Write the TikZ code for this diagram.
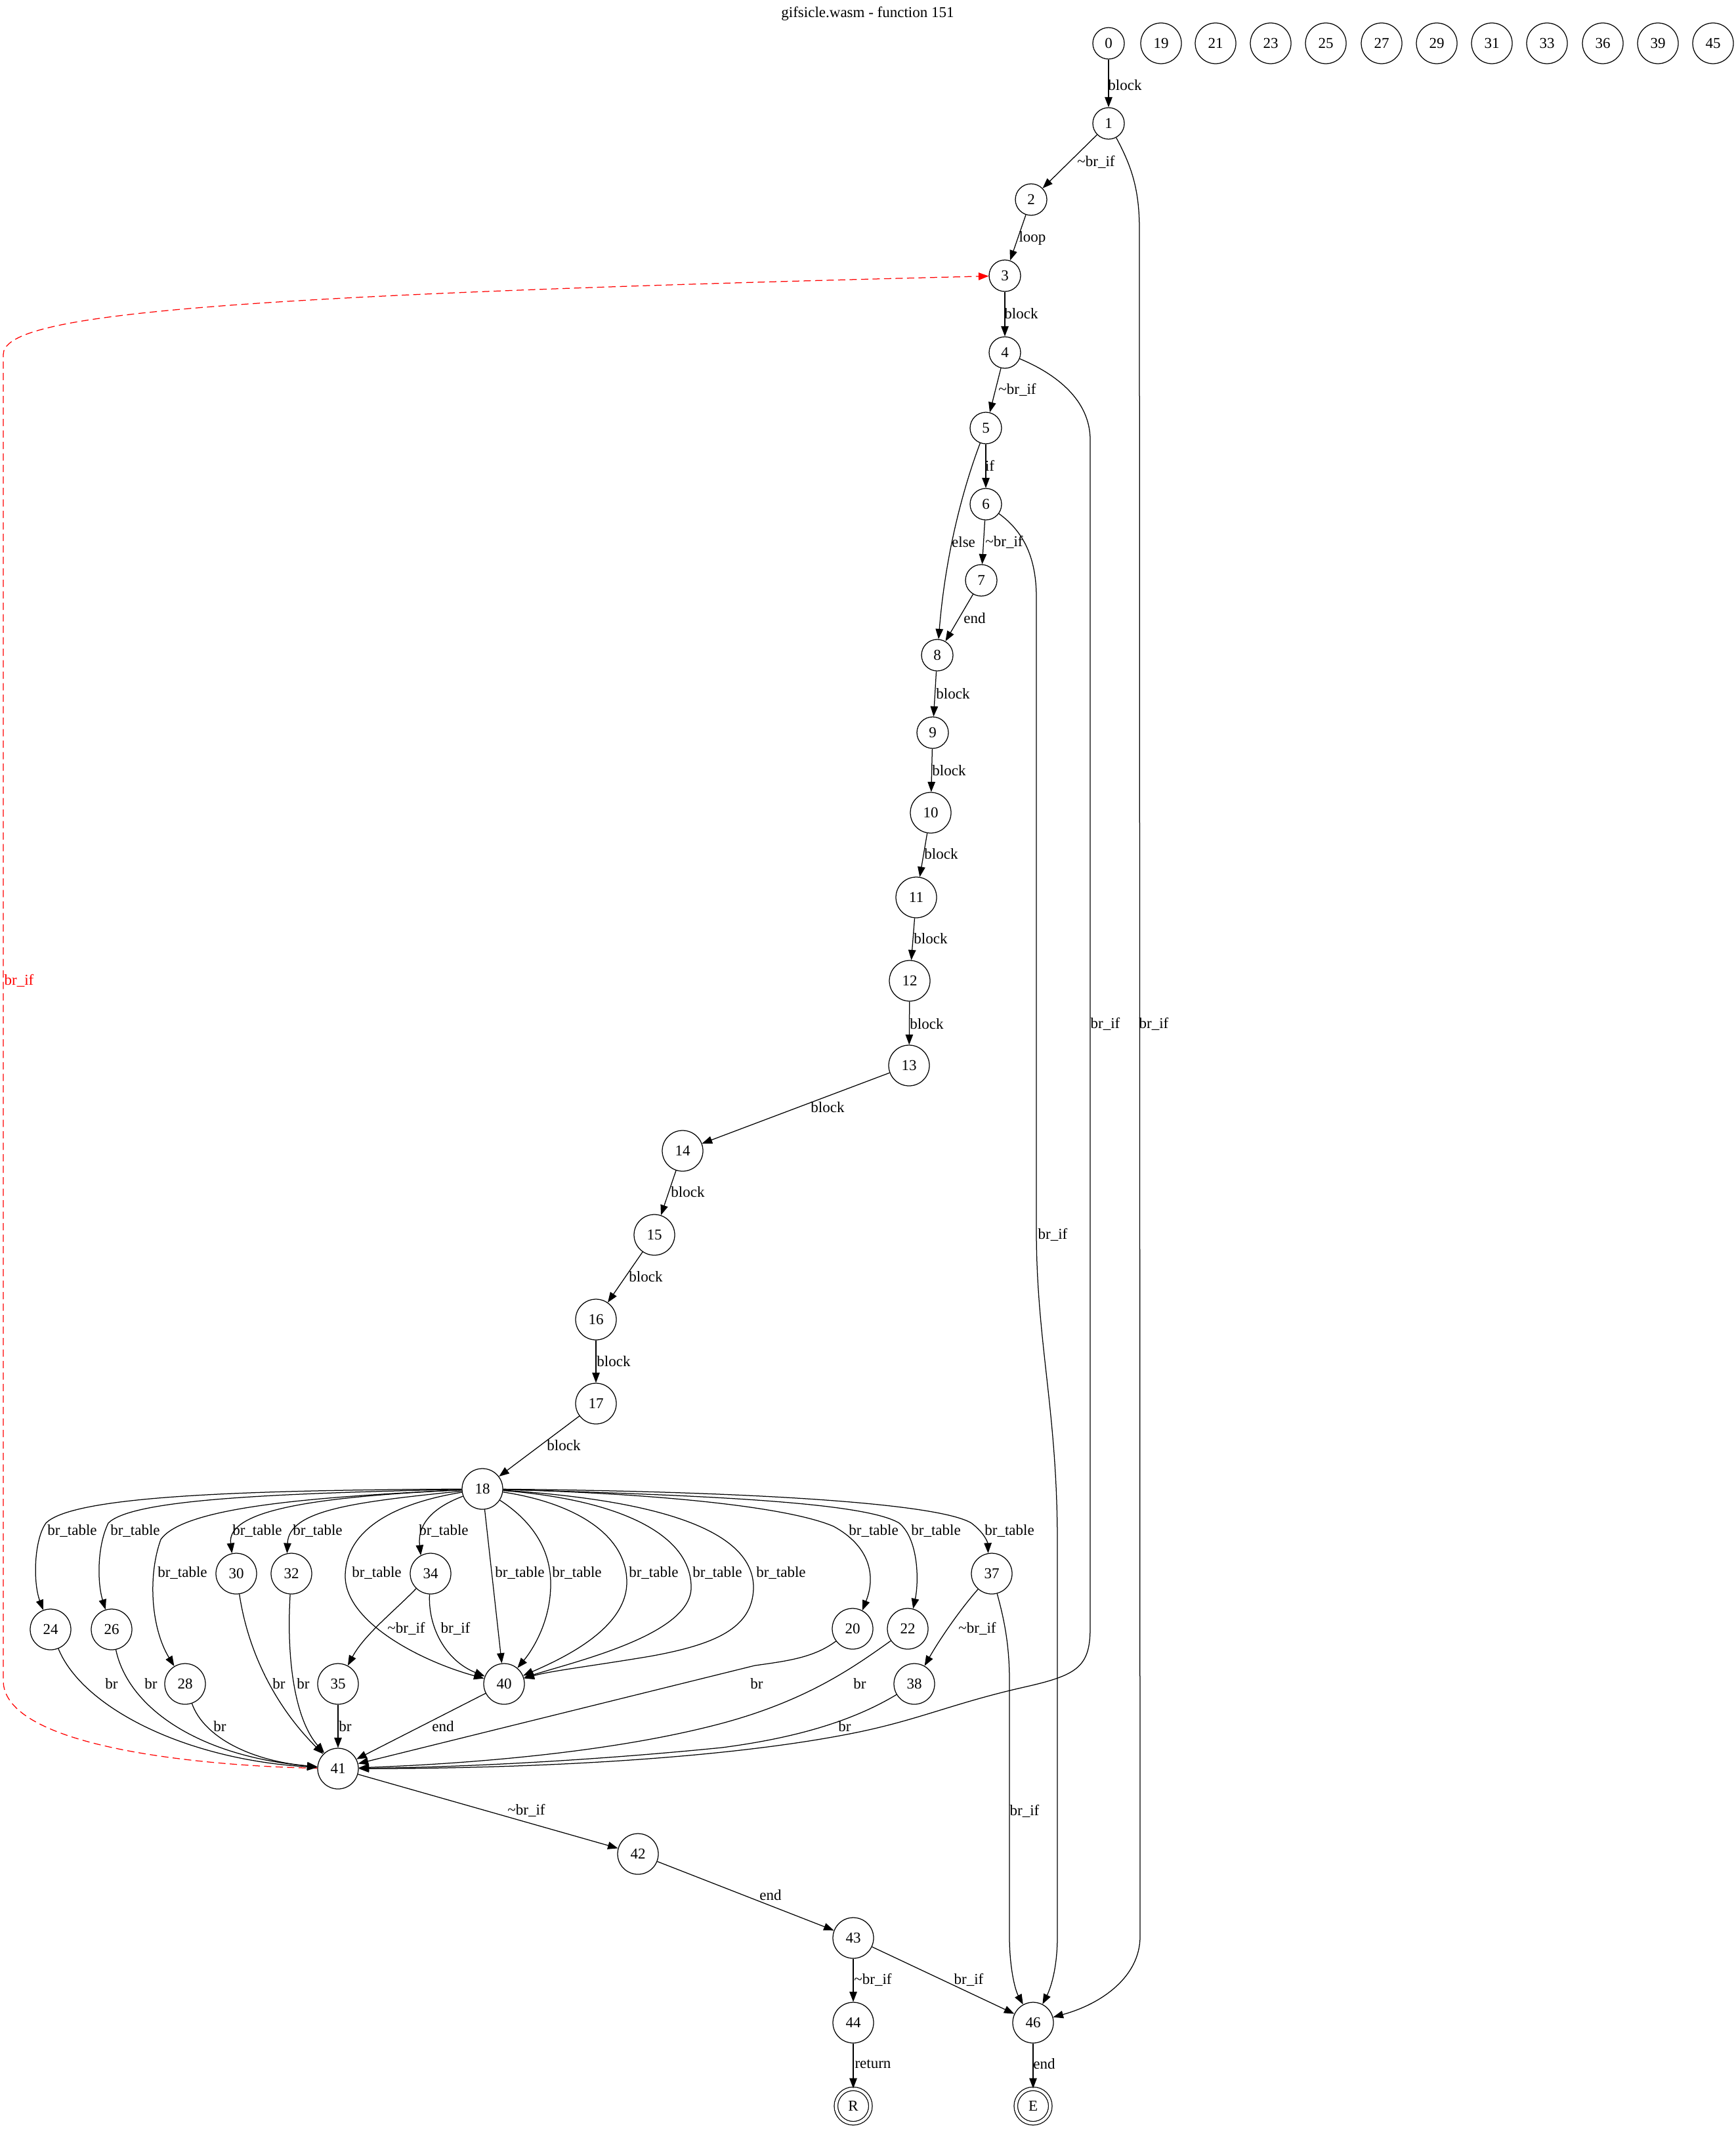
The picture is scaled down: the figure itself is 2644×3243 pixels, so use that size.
\documentclass[tikz,border=0pt]{standalone}
\usepackage{fontspec}
\setmainfont{Liberation Serif}
\usetikzlibrary{arrows.meta}
\newcommand\lab{\fontsize{9.2pt}{11pt}\selectfont}
\newcommand\tld{\textasciitilde}
\begin{document}
\begin{tikzpicture}[x=0.4pt,y=-0.4pt,line width=0.5pt,
  v1/.style={circle,draw,minimum size=19.2pt,inner sep=0pt,font=\lab},
  v2/.style={circle,draw,minimum size=24.8pt,inner sep=0pt,font=\lab},
  term/.style={circle,draw,double,double distance=1.7pt,minimum size=21pt,inner sep=0pt,font=\lab},
  e/.style={-{Triangle[length=6.2pt,width=4.6pt]}},
  back/.style={red,dash pattern=on 4.4pt off 2.6pt,-{Triangle[length=6.2pt,width=4.6pt]}},
  lb/.style={inner sep=0pt,font=\lab}]
\fill[white] (0,0) rectangle (2644,3243);
\useasboundingbox (0,0) rectangle (2644,3243);
\node[lb] (title) at (1322,21) {gifsicle.wasm - function 151};
% nodes
\node[v1] (n0) at (1689,66) {0};
\node[v2] (n19) at (1769,66) {19};
\node[v2] (n21) at (1852,66) {21};
\node[v2] (n23) at (1936,66) {23};
\node[v2] (n25) at (2020,66) {25};
\node[v2] (n27) at (2105,66) {27};
\node[v2] (n29) at (2189,66) {29};
\node[v2] (n31) at (2273,66) {31};
\node[v2] (n33) at (2357,66) {33};
\node[v2] (n36) at (2442,66) {36};
\node[v2] (n39) at (2526,66) {39};
\node[v2] (n45) at (2610,66) {45};
\node[v1] (n1) at (1689,188) {1};
\node[v1] (n2) at (1571,304) {2};
\node[v1] (n3) at (1531,420) {3};
\node[v1] (n4) at (1531,537) {4};
\node[v1] (n5) at (1502,652) {5};
\node[v1] (n6) at (1502,768) {6};
\node[v1] (n7) at (1495,884) {7};
\node[v1] (n8) at (1428,998) {8};
\node[v1] (n9) at (1421,1116) {9};
\node[v2] (n10) at (1418,1238) {10};
\node[v2] (n11) at (1396,1367) {11};
\node[v2] (n12) at (1386,1494) {12};
\node[v2] (n13) at (1385,1623) {13};
\node[v2] (n14) at (1040,1753) {14};
\node[v2] (n15) at (997,1881) {15};
\node[v2] (n16) at (908,2010) {16};
\node[v2] (n17) at (908,2138) {17};
\node[v2] (n18) at (735,2268) {18};
\node[v2] (n30) at (360,2397) {30};
\node[v2] (n32) at (444,2397) {32};
\node[v2] (n34) at (656,2397) {34};
\node[v2] (n37) at (1511,2397) {37};
\node[v2] (n24) at (77,2482) {24};
\node[v2] (n26) at (170,2482) {26};
\node[v2] (n20) at (1299,2481) {20};
\node[v2] (n22) at (1383,2481) {22};
\node[v2] (n28) at (282,2565) {28};
\node[v2] (n35) at (515,2565) {35};
\node[v2] (n40) at (768,2565) {40};
\node[v2] (n38) at (1393,2565) {38};
\node[v2] (n41) at (515,2694) {41};
\node[v2] (n42) at (972,2824) {42};
\node[v2] (n43) at (1300,2952) {43};
\node[v2] (n44) at (1300,3081) {44};
\node[v2] (n46) at (1574,3081) {46};
\node[term] (nR) at (1300,3208) {R};
\node[term] (nE) at (1574,3208) {E};
% top chain
\draw[e] (n0) -- (n1) node[lb] (l1) at (1714,130) {block};
\draw[e] (n1) -- (n2) node[lb] (l2) at (1670,247) {\tld br\_if};
\draw[e] (n2) -- (n3) node[lb] (l3) at (1573,363) {loop};
\draw[e] (n3) -- (n4) node[lb] (l4) at (1556,478) {block};
\draw[e] (n4) -- (n5) node[lb] (l5) at (1550,594) {\tld br\_if};
\draw[e] (n5) -- (n6) node[lb] (l6) at (1508,709) {if};
\draw[e] (n6) -- (n7) node[lb] (l7) at (1530,826) {\tld br\_if};
\draw[e] (n7) -- (n8) node[lb] (l8) at (1485,942) {end};
\draw[e] (n5) .. controls (1465,750) and (1440,850) .. (n8) node[lb] (l9) at (1468,826) {else};
\draw[e] (n8) -- (n9) node[lb] (l10) at (1452,1057) {block};
\draw[e] (n9) -- (n10) node[lb] (l11) at (1446,1174) {block};
\draw[e] (n10) -- (n11) node[lb] (l12) at (1434,1301) {block};
\draw[e] (n11) -- (n12) node[lb] (l13) at (1418,1430) {block};
\draw[e] (n12) -- (n13) node[lb] (l14) at (1412,1560) {block};
\draw[e] (n13) -- (n14) node[lb] (l15) at (1261,1687) {block};
\draw[e] (n14) -- (n15) node[lb] (l16) at (1048,1816) {block};
\draw[e] (n15) -- (n16) node[lb] (l17) at (984,1945) {block};
\draw[e] (n16) -- (n17) node[lb] (l18) at (935,2074) {block};
\draw[e] (n17) -- (n18) node[lb] (l19) at (859,2202) {block};
% long edges on the right
\draw[e] (n1) .. controls (1725,255) and (1736,290) .. (1736,350) -- (1737,2950) .. controls (1737,3010) and (1680,3052) .. (n46) node[lb] (l20) at (1758,1560) {br\_if};
\draw[e] (n4) .. controls (1610,570) and (1661,610) .. (1661,670) -- (1661,2480) .. controls (1661,2540) and (1640,2552) .. (1560,2570) .. controls (1450,2595) and (1400,2620) .. (1300,2640) .. controls (1100,2680) and (800,2694) .. (n41) node[lb] (l21) at (1684,1560) {br\_if};
\draw[e] (n6) .. controls (1560,810) and (1579,850) .. (1579,910) -- (1579,1880) .. controls (1580,2050) and (1611,2150) .. (1611,2350) -- (1611,2950) .. controls (1611,3000) and (1600,3030) .. (n46) node[lb] (l22) at (1604,1881) {br\_if};
% back edge
\draw[back] (n41) .. controls (300,2690) and (5,2660) .. (5,2560) -- (5,540) .. controls (5,480) and (300,450) .. (n3) node[lb,red] (l23) at (29,1494) {br\_if};
% fan out of 18
\draw[e] (n18) .. controls (350,2270) and (110,2280) .. (70,2320) .. controls (52,2345) and (50,2410) .. (n24) node[lb] (l24) at (110,2332) {br\_table};
\draw[e] (n18) .. controls (400,2275) and (200,2285) .. (165,2320) .. controls (148,2355) and (148,2410) .. (n26) node[lb] (l25) at (206,2332) {br\_table};
\draw[e] (n18) .. controls (480,2280) and (280,2295) .. (245,2345) .. controls (225,2400) and (230,2480) .. (n28) node[lb] (l26) at (278,2396) {br\_table};
\draw[e] (n18) .. controls (480,2280) and (345,2300) .. (n30.102) node[lb] (l27) at (392,2332) {br\_table};
\draw[e] (n18) .. controls (540,2288) and (440,2300) .. (n32.102) node[lb] (l28) at (484,2332) {br\_table};
\draw[e] (n18) .. controls (655,2298) and (636,2325) .. (n34.118) node[lb] (l29) at (676,2332) {br\_table};
\draw[e] (n18) .. controls (600,2290) and (527,2330) .. (526,2400) .. controls (525,2470) and (640,2530) .. (n40) node[lb] (l30) at (574,2396) {br\_table};
\draw[e] (n18) -- (n40) node[lb] (l31) at (792,2396) {br\_table};
\draw[e] (n18) .. controls (800,2310) and (838,2350) .. (839,2410) .. controls (840,2470) and (810,2515) .. (n40) node[lb] (l32) at (879,2396) {br\_table};
\draw[e] (n18) .. controls (880,2290) and (955,2340) .. (955,2410) .. controls (955,2480) and (860,2525) .. (n40) node[lb] (l33) at (996,2396) {br\_table};
\draw[e] (n18) .. controls (950,2285) and (1055,2340) .. (1053,2420) .. controls (1050,2490) and (880,2530) .. (n40) node[lb] (l34) at (1093,2396) {br\_table};
\draw[e] (n18) .. controls (1000,2285) and (1150,2330) .. (1148,2420) .. controls (1146,2480) and (1090,2505) .. (990,2523) .. controls (900,2538) and (840,2545) .. (n40) node[lb] (l35) at (1190,2396) {br\_table};
\draw[e] (n18) .. controls (1000,2275) and (1200,2295) .. (1270,2325) .. controls (1325,2355) and (1335,2400) .. (n20.62) node[lb] (l36) at (1331,2332) {br\_table};
\draw[e] (n18) .. controls (1100,2278) and (1320,2290) .. (1370,2320) .. controls (1400,2345) and (1400,2410) .. (n22.75) node[lb] (l37) at (1426,2332) {br\_table};
\draw[e] (n18) .. controls (1150,2272) and (1430,2290) .. (1480,2320) .. controls (1500,2335) and (1505,2350) .. (n37.100) node[lb] (l38) at (1538,2332) {br\_table};
% middle
\draw[e] (n34) .. controls (600,2455) and (555,2490) .. (n35) node[lb] (l39) at (619,2481) {\tld br\_if};
\draw[e] (n34) .. controls (652,2480) and (680,2530) .. (n40) node[lb] (l40) at (694,2481) {br\_if};
\draw[e] (n37) .. controls (1460,2455) and (1430,2500) .. (n38) node[lb] (l41) at (1489,2481) {\tld br\_if};
\draw[e] (n37) .. controls (1528,2460) and (1538,2500) .. (1538,2560) -- (1538,2950) .. controls (1538,2995) and (1546,3030) .. (n46) node[lb] (l42) at (1561,2759) {br\_if};
% into 41
\draw[e] (n24) .. controls (125,2600) and (280,2680) .. (n41) node[lb] (l43) at (170,2565) {br};
\draw[e] (n26) .. controls (195,2600) and (300,2675) .. (n41) node[lb] (l44) at (230,2565) {br};
\draw[e] (n28) .. controls (310,2645) and (380,2682) .. (n41) node[lb] (l45) at (335,2630) {br};
\draw[e] (n30) .. controls (380,2530) and (430,2610) .. (n41) node[lb] (l46) at (425,2565) {br};
\draw[e] (n32) .. controls (436,2530) and (450,2620) .. (n41) node[lb] (l47) at (462,2565) {br};
\draw[e] (n35) -- (n41) node[lb] (l48) at (526,2630) {br};
\draw[e] (n40) -- (n41) node[lb] (l49) at (675,2630) {end};
\draw[e] (n20) .. controls (1240,2525) and (1200,2530) .. (1150,2537) -- (n41) node[lb] (l50) at (1153,2565) {br};
\draw[e] (n22) .. controls (1300,2540) and (1230,2590) .. (1100,2625) .. controls (950,2665) and (750,2685) .. (n41) node[lb] (l51) at (1310,2565) {br};
\draw[e] (n38) .. controls (1310,2615) and (1230,2645) .. (1100,2662) .. controls (900,2682) and (700,2692) .. (n41) node[lb] (l52) at (1287,2630) {br};
% bottom
\draw[e] (n41) -- (n42) node[lb] (l53) at (802,2758) {\tld br\_if};
\draw[e] (n42) -- (n43) node[lb] (l54) at (1174,2887) {end};
\draw[e] (n43) -- (n44) node[lb] (l55) at (1330,3016) {\tld br\_if};
\draw[e] (n43) -- (n46) node[lb] (l56) at (1476,3016) {br\_if};
\draw[e] (n44) -- (nR) node[lb] (l57) at (1330,3144) {return};
\draw[e] (n46) -- (nE) node[lb] (l58) at (1591,3144) {end};
\end{tikzpicture}
\end{document}
